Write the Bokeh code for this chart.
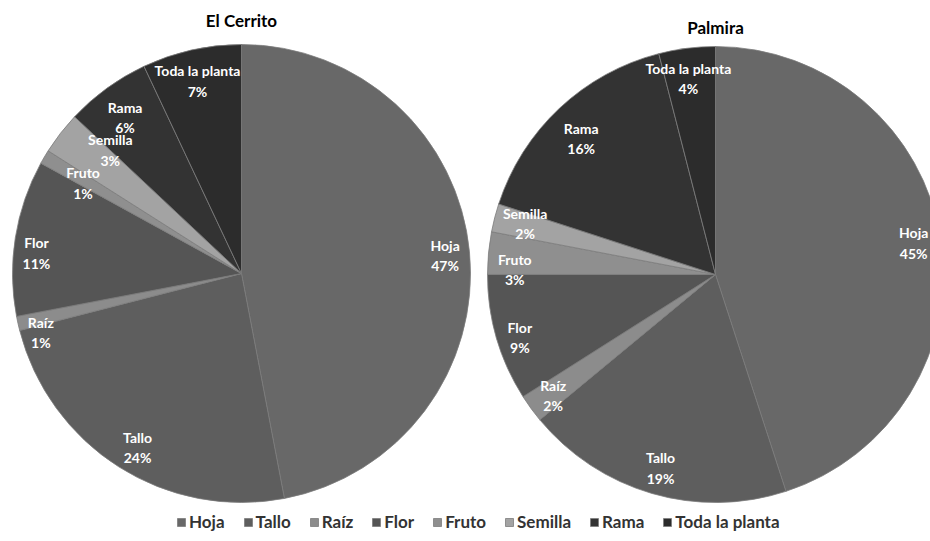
import math
from bokeh.plotting import figure
from bokeh.models import Range1d, ColumnDataSource, Legend, LegendItem
from bokeh.core.properties import value
from bokeh.embed import file_html
from bokeh.resources import INLINE

# ---- data ----
categories = ["Hoja", "Tallo", "Raíz", "Flor", "Fruto", "Semilla", "Rama", "Toda la planta"]
cerrito = [47, 24, 1, 11, 1, 3, 6, 7]
palmira = [45, 19, 2, 9, 3, 2, 16, 4]
titles = ["El Cerrito", "Palmira"]

# ---- styling / layout ----
colors = ["#686868", "#5e5e5e", "#8c8c8c", "#555555", "#8f8f8f", "#a3a3a3", "#333333", "#2c2c2c"]
W, H = 930, 541
# pie centres / radius in page pixels (y measured from bottom)
pies = [(241, H - 273, 229), (715, H - 274, 228)]
title_gap = [24, 19]
label_r = 0.88
# small label nudges (dx, dy in pixels, dy positive = down)
nudges = [
    [(3, 1), (4, 4), (-4, 15), (-6, 11), (15, 12), (28, 0), (2, 7), (0, 4)],
    [(0, 0), (1, 1), (0, 3), (-3, 7), (-1, 14), (4, -1), (3, 10), (-2, 3)],
]
FONT = "Lato"

p = figure(width=W, height=H, output_backend="svg", toolbar_location=None,
           x_range=Range1d(0, W), y_range=Range1d(0, H),
           x_axis_type=None, y_axis_type=None, min_border=0)
p.grid.visible = False
p.outline_line_color = None
p.background_fill_color = "white"
p.border_fill_color = "white"

renderers = []
for k, ((cx, cy, R), vals, title) in enumerate(zip(pies, [cerrito, palmira], titles)):
    total = float(sum(vals))
    starts, ends, lx, ly, txt = [], [], [], [], []
    cum = 0.0
    for i, v in enumerate(vals):
        a0 = math.pi / 2 - 2 * math.pi * cum / total
        cum += v
        a1 = math.pi / 2 - 2 * math.pi * cum / total
        starts.append(a1)
        ends.append(a0)
        mid = (a0 + a1) / 2
        dx, dy = nudges[k][i]
        lx.append(cx + label_r * R * math.cos(mid) + dx)
        ly.append(cy + label_r * R * math.sin(mid) - dy)
        txt.append(f"{categories[i]}\n{round(100 * v / total)}%")
    src = ColumnDataSource(dict(x=[cx] * len(vals), y=[cy] * len(vals), s=starts, e=ends,
                                color=colors, cat=categories))
    r = p.wedge(x="x", y="y", radius=R, start_angle="s", end_angle="e", source=src,
                fill_color="color", line_color="#7c7c7c", line_width=0.8)
    renderers.append(r)
    p.text(x=lx, y=ly, text=txt, text_color="white", text_font=value(FONT),
           text_font_style="bold", text_font_size="14px", text_align="center",
           text_baseline="middle", text_line_height=1.2)
    p.text(x=[cx], y=[cy + R + title_gap[k]], text=[title], text_color="black",
           text_font=value(FONT), text_font_style="bold", text_font_size="17px",
           text_align="center", text_baseline="middle")

items = [LegendItem(label=c, renderers=[renderers[0]], index=i) for i, c in enumerate(categories)]
legend = Legend(items=items, orientation="horizontal", location=(176, 9),
                glyph_width=10, glyph_height=10, label_standoff=3, spacing=18,
                padding=2, margin=0, border_line_color=None, background_fill_alpha=0,
                label_text_font=FONT, label_text_font_style="bold",
                label_text_font_size="17px", label_text_color="#333333")
p.add_layout(legend, "center")

open("out.html", "w").write(file_html(p, INLINE))
